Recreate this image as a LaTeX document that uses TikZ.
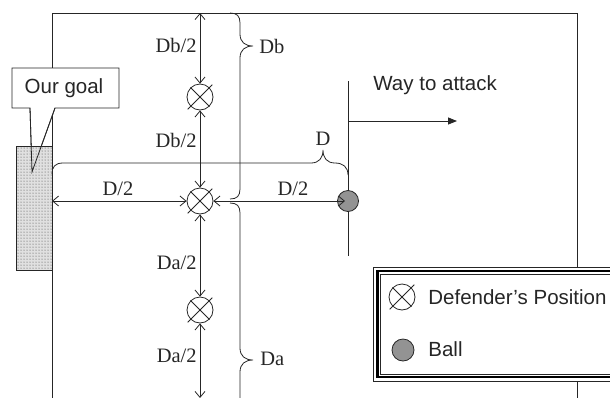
\documentclass[tikz,border=0pt]{standalone}
\usepackage{fontspec}
\setmainfont{Liberation Serif}
\setsansfont{Liberation Sans}
\usetikzlibrary{arrows.meta,patterns}
\begin{document}
\begin{tikzpicture}[x=1pt,y=-1pt,line width=0.8pt,color=black!85,
  lbl/.style={font=\fontsize{20.5}{24}\selectfont,inner sep=0pt},
  slbl/.style={font=\sffamily\fontsize{20.5}{24}\selectfont,inner sep=0pt},
  defender/.style={circle,draw,minimum size=26pt,inner sep=0pt},
  xline/.style={shorten <=-4pt,shorten >=-4pt},
  dim/.style={{Straight Barb[length=6pt,width=10pt]}-{Straight Barb[length=6pt,width=10pt]}},
  ballst/.style={circle,draw,fill=gray!85,minimum size=21pt,inner sep=0pt},
  attack/.style={-{Triangle[length=9pt,width=7pt]}}]
\useasboundingbox (0,0) rectangle (610,397);
% field
\draw (52,400) -- (52,13) -- (577,13) -- (577,400);
% callout
\draw[fill=white] (12,68) -- (119,68) -- (119,108) -- (55,108) -- (32,172) -- (30,108) -- (12,108) -- cycle;
\node[slbl] (goallbl) at (64,88) {Our goal};
% goal
\fill[black!12] (16,146) rectangle (52,270);
\draw[pattern=dots,pattern color=black!75] (16,146) rectangle (52,270);
\draw (55,108) -- (32,172) -- (30,108);
% coordinates
\coordinate (top) at (200,13);
\coordinate (bot) at (200,398);
\coordinate (fl) at (52,201);
\coordinate (wtop) at (348,81);
\coordinate (wbot) at (348,256);
\coordinate (wmid) at (348,121);
\coordinate (wend) at (457,121);
% defenders
\node[defender] (d1) at (200,97) {};
\node[defender] (d2) at (200,201) {};
\node[defender] (d3) at (200,310) {};
\foreach \d in {d1,d2,d3}{\draw[xline] (\d.north west) -- (\d.south east) (\d.north east) -- (\d.south west);}
% ball and attack line
\draw (wtop) -- (wbot);
\node[ballst] (ball) at (348,201) {};
\draw[attack] (wmid) -- (wend);
\node[slbl,anchor=west] (way) at (373,85) {Way to attack};
% vertical dimension arrows
\draw[dim] (top) -- (d1.north);
\draw[dim] (d1.south) -- (d2.north);
\draw[dim] (d2.south) -- (d3.north);
\draw[dim] (d3.south) -- (bot);
\node[lbl,anchor=east] (db1) at (197,45) {Db/2};
\node[lbl,anchor=east] (db2) at (197,140) {Db/2};
\node[lbl,anchor=east] (da1) at (197,263) {Da/2};
\node[lbl,anchor=east] (da2) at (197,356) {Da/2};
% horizontal dimension arrows
\draw[dim] (fl) -- (d2.west);
\draw[dim,shorten >=3pt] (d2.east) -- (ball.center);
\node[lbl] (dl) at (118,189) {D/2};
\node[lbl] (dr) at (293,189) {D/2};
% braces
\draw (230,13) .. controls (237,13) and (240,16) .. (240,23) -- (240,34)
      .. controls (240,42) and (245,46) .. (253,46)
      .. controls (245,46) and (240,50) .. (240,58) -- (240,189)
      .. controls (240,196) and (237,199) .. (230,199);
\node[lbl,anchor=west] (dblbl) at (259,46) {Db};
\draw (230,203) .. controls (237,203) and (240,206) .. (240,213) -- (240,348)
      .. controls (240,356) and (245,360) .. (253,360)
      .. controls (245,360) and (240,364) .. (240,372) -- (240,400);
\node[lbl,anchor=west] (dalbl) at (260,359) {Da};
\draw (52,174) .. controls (52,167) and (55,163) .. (63,163) -- (311,163)
      .. controls (319,163) and (323,158) .. (323,150)
      .. controls (323,158) and (327,163) .. (335,163)
      .. controls (343,163) and (348,167) .. (348,175);
\node[lbl] (dlbl) at (323,139) {D};
% legend
\fill[white] (373,267) rectangle (615,381);
\draw[line width=0.6pt] (373,267) rectangle (615,381);
\draw[line width=2.6pt,black] (377.5,271) rectangle (615,377);
\draw[line width=0.5pt] (380.5,274) rectangle (615,374);
\node[defender] (ld) at (402,297) {};
\draw[xline] (ld.north west) -- (ld.south east) (ld.north east) -- (ld.south west);
\node[slbl,anchor=west] (ldt) at (428,297) {Defender’s Position};
\node[ballst,minimum size=22pt] (lb) at (403,350) {};
\node[slbl,anchor=west] (lbt) at (428,349) {Ball};
\end{tikzpicture}
\end{document}
